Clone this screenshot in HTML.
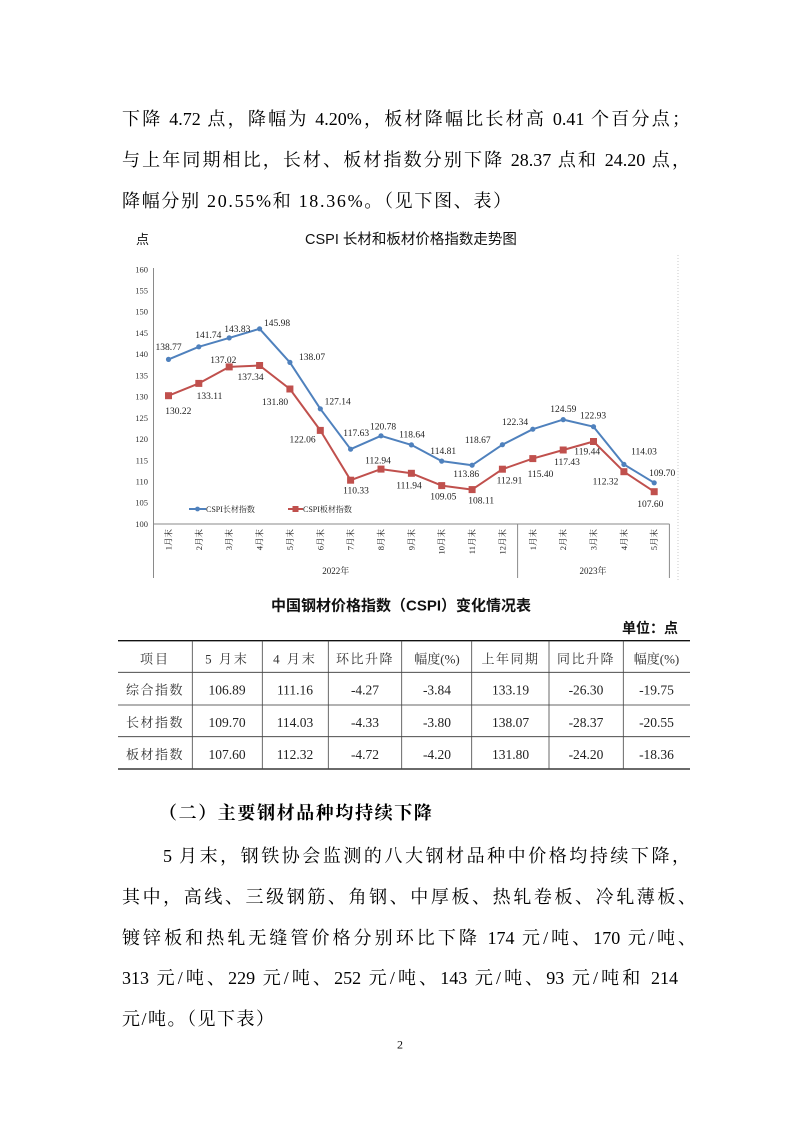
<!DOCTYPE html>
<html lang="zh">
<head>
<meta charset="utf-8">
<style>
html,body{margin:0;padding:0;}
body{width:800px;height:1131px;background:#fff;position:relative;overflow:hidden;}
.t{position:absolute;font-family:"Liberation Serif","Noto Serif CJK SC",serif;font-size:18px;line-height:24px;height:24px;color:#000;white-space:nowrap;}
.j{text-align:justify;text-align-last:justify;white-space:normal;overflow:visible;}
svg{position:absolute;left:0;top:0;}
</style>
</head>
<body>

<div class="t j" style="left:122px;top:107px;width:568px;">下降 4.72 点，降幅为 4.20%，板材降幅比长材高 0.41 个百分点；</div>
<div class="t j" style="left:122px;top:148px;width:568px;">与上年同期相比，长材、板材指数分别下降 28.37 点和 24.20 点，</div>
<div class="t" style="left:122px;top:189px;letter-spacing:1.7px;">降幅分别 20.55%和 18.36%。（见下图、表）</div>

<svg width="800" height="1131" viewBox="0 0 800 1131" xmlns="http://www.w3.org/2000/svg">
  <text x="136" y="244" font-family="'Noto Sans CJK SC',sans-serif" font-size="13" fill="#111">点</text>
  <text x="305" y="244" font-family="'Liberation Sans','Noto Sans CJK SC',sans-serif" font-size="14.5" fill="#111">CSPI 长材和板材价格指数走势图</text>

  <line x1="678" y1="255" x2="678" y2="580" stroke="#c8c8c8" stroke-width="1" stroke-dasharray="1,2"/>

  <g font-family="'Liberation Serif',serif" font-size="8.5" fill="#333" text-anchor="end">
    <text x="148" y="272.3">160</text>
    <text x="148" y="293.5">155</text>
    <text x="148" y="314.7">150</text>
    <text x="148" y="336">145</text>
    <text x="148" y="357.2">140</text>
    <text x="148" y="378.4">135</text>
    <text x="148" y="399.6">130</text>
    <text x="148" y="420.8">125</text>
    <text x="148" y="442.1">120</text>
    <text x="148" y="463.3">115</text>
    <text x="148" y="484.5">110</text>
    <text x="148" y="505.7">105</text>
    <text x="148" y="527">100</text>
  </g>

  <g stroke="#8a8a8a" stroke-width="1">
    <line x1="153.5" y1="268" x2="153.5" y2="578"/>
    <line x1="153" y1="524" x2="669.5" y2="524"/>
    <line x1="517.6" y1="524" x2="517.6" y2="578"/>
    <line x1="669.4" y1="524" x2="669.4" y2="578"/>
  </g>

  <g font-family="'Liberation Serif','Noto Serif CJK SC',serif" font-size="8.5" fill="#222" text-anchor="end">
    <text transform="translate(171.5,529) rotate(-90)">1月末</text>
    <text transform="translate(201.8,529) rotate(-90)">2月末</text>
    <text transform="translate(232.2,529) rotate(-90)">3月末</text>
    <text transform="translate(262.6,529) rotate(-90)">4月末</text>
    <text transform="translate(292.9,529) rotate(-90)">5月末</text>
    <text transform="translate(323.3,529) rotate(-90)">6月末</text>
    <text transform="translate(353.6,529) rotate(-90)">7月末</text>
    <text transform="translate(384,529) rotate(-90)">8月末</text>
    <text transform="translate(414.4,529) rotate(-90)">9月末</text>
    <text transform="translate(444.7,529) rotate(-90)">10月末</text>
    <text transform="translate(475.1,529) rotate(-90)">11月末</text>
    <text transform="translate(505.4,529) rotate(-90)">12月末</text>
    <text transform="translate(535.8,529) rotate(-90)">1月末</text>
    <text transform="translate(566.2,529) rotate(-90)">2月末</text>
    <text transform="translate(596.5,529) rotate(-90)">3月末</text>
    <text transform="translate(626.9,529) rotate(-90)">4月末</text>
    <text transform="translate(657.2,529) rotate(-90)">5月末</text>
  </g>
  <g font-family="'Liberation Serif','Noto Serif CJK SC',serif" font-size="9" fill="#222" text-anchor="middle">
    <text x="335.7" y="574">2022年</text>
    <text x="593" y="574">2023年</text>
  </g>

  <polyline fill="none" stroke="#4F81BD" stroke-width="2" stroke-linejoin="round"
    points="168.5,359.4 198.8,346.8 229.2,337.9 259.6,328.8 289.9,362.4 320.3,408.8 350.6,449.2 381,435.8 411.4,444.9 441.7,461.1 472.1,465.2 502.4,444.7 532.8,429.2 563.2,419.6 593.5,426.7 623.9,464.4 654.2,482.8"/>
  <polyline fill="none" stroke="#C0504D" stroke-width="2" stroke-linejoin="round"
    points="168.5,395.7 198.8,383.4 229.2,366.9 259.6,365.5 289.9,389 320.3,430.4 350.6,480.2 381,469.1 411.4,473.3 441.7,485.6 472.1,489.6 502.4,469.2 532.8,458.6 563.2,450 593.5,441.5 623.9,471.7 654.2,491.7"/>

  <g fill="#4F81BD">
    <circle cx="168.5" cy="359.4" r="2.6"/><circle cx="198.8" cy="346.8" r="2.6"/><circle cx="229.2" cy="337.9" r="2.6"/>
    <circle cx="259.6" cy="328.8" r="2.6"/><circle cx="289.9" cy="362.4" r="2.6"/><circle cx="320.3" cy="408.8" r="2.6"/>
    <circle cx="350.6" cy="449.2" r="2.6"/><circle cx="381" cy="435.8" r="2.6"/><circle cx="411.4" cy="444.9" r="2.6"/>
    <circle cx="441.7" cy="461.1" r="2.6"/><circle cx="472.1" cy="465.2" r="2.6"/><circle cx="502.4" cy="444.7" r="2.6"/>
    <circle cx="532.8" cy="429.2" r="2.6"/><circle cx="563.2" cy="419.6" r="2.6"/><circle cx="593.5" cy="426.7" r="2.6"/>
    <circle cx="623.9" cy="464.4" r="2.6"/><circle cx="654.2" cy="482.8" r="2.6"/>
  </g>
  <g fill="#C0504D">
    <rect x="165" y="392.2" width="7" height="7"/><rect x="195.3" y="379.9" width="7" height="7"/><rect x="225.7" y="363.4" width="7" height="7"/>
    <rect x="256.1" y="362" width="7" height="7"/><rect x="286.4" y="385.5" width="7" height="7"/><rect x="316.8" y="426.9" width="7" height="7"/>
    <rect x="347.1" y="476.7" width="7" height="7"/><rect x="377.5" y="465.6" width="7" height="7"/><rect x="407.9" y="469.8" width="7" height="7"/>
    <rect x="438.2" y="482.1" width="7" height="7"/><rect x="468.6" y="486.1" width="7" height="7"/><rect x="498.9" y="465.7" width="7" height="7"/>
    <rect x="529.3" y="455.1" width="7" height="7"/><rect x="559.7" y="446.5" width="7" height="7"/><rect x="590" y="438" width="7" height="7"/>
    <rect x="620.4" y="468.2" width="7" height="7"/><rect x="650.7" y="488.2" width="7" height="7"/>
  </g>

  <g font-family="'Liberation Serif',serif" font-size="9.5" fill="#222" text-anchor="middle">
    <text x="168.5" y="350.2">138.77</text>
    <text x="208.3" y="337.8">141.74</text>
    <text x="237.3" y="331.8">143.83</text>
    <text x="277" y="325.8">145.98</text>
    <text x="312" y="360.2">138.07</text>
    <text x="337.7" y="404.5">127.14</text>
    <text x="356.2" y="436.2">117.63</text>
    <text x="383" y="429.5">120.78</text>
    <text x="412" y="437.5">118.64</text>
    <text x="443.2" y="454.2">114.81</text>
    <text x="466.2" y="476.8">113.86</text>
    <text x="477.8" y="442.8">118.67</text>
    <text x="515" y="425.2">122.34</text>
    <text x="563.3" y="411.8">124.59</text>
    <text x="593" y="418.5">122.93</text>
    <text x="644" y="454.5">114.03</text>
    <text x="662.2" y="476.2">109.70</text>

    <text x="178.3" y="414.2">130.22</text>
    <text x="209.5" y="399.2">133.11</text>
    <text x="223.3" y="362.8">137.02</text>
    <text x="250.5" y="380.2">137.34</text>
    <text x="275" y="405.2">131.80</text>
    <text x="302.5" y="442.5">122.06</text>
    <text x="356" y="493.5">110.33</text>
    <text x="378" y="463.5">112.94</text>
    <text x="409" y="488.5">111.94</text>
    <text x="443.3" y="499.5">109.05</text>
    <text x="481.2" y="503.5">108.11</text>
    <text x="509.5" y="483.5">112.91</text>
    <text x="540.5" y="476.8">115.40</text>
    <text x="567" y="465.2">117.43</text>
    <text x="587.2" y="454.5">119.44</text>
    <text x="605.5" y="484.5">112.32</text>
    <text x="650.3" y="506.8">107.60</text>
  </g>

  <line x1="189" y1="509" x2="206" y2="509" stroke="#4F81BD" stroke-width="2"/>
  <circle cx="197.5" cy="509" r="2.4" fill="#4F81BD"/>
  <text x="206" y="512" font-family="'Liberation Serif','Noto Serif CJK SC',serif" font-size="8" fill="#222">CSPI长材指数</text>
  <line x1="288" y1="509" x2="303" y2="509" stroke="#C0504D" stroke-width="2"/>
  <rect x="292.5" y="506" width="6" height="6" fill="#C0504D"/>
  <text x="303" y="512" font-family="'Liberation Serif','Noto Serif CJK SC',serif" font-size="8" fill="#222">CSPI板材指数</text>

  <text x="401" y="610.5" text-anchor="middle" font-family="'Liberation Sans','Noto Sans CJK SC',sans-serif" font-size="15" font-weight="bold" fill="#111">中国钢材价格指数（CSPI）变化情况表</text>
  <text x="678" y="633" text-anchor="end" font-family="'Noto Sans CJK SC',sans-serif" font-size="14" font-weight="bold" fill="#111">单位：点</text>

  <line x1="118" y1="640.7" x2="690" y2="640.7" stroke="#111" stroke-width="1.3"/>
  <line x1="118" y1="672.3" x2="690" y2="672.3" stroke="#333" stroke-width="0.8"/>
  <line x1="118" y1="705" x2="690" y2="705" stroke="#333" stroke-width="0.8"/>
  <line x1="118" y1="736.7" x2="690" y2="736.7" stroke="#333" stroke-width="0.8"/>
  <line x1="118" y1="769" x2="690" y2="769" stroke="#111" stroke-width="1.3"/>
  <g stroke="#444" stroke-width="0.8">
    <line x1="192.3" y1="640.7" x2="192.3" y2="769"/>
    <line x1="262.3" y1="640.7" x2="262.3" y2="769"/>
    <line x1="328.3" y1="640.7" x2="328.3" y2="769"/>
    <line x1="401.7" y1="640.7" x2="401.7" y2="769"/>
    <line x1="471.7" y1="640.7" x2="471.7" y2="769"/>
    <line x1="549" y1="640.7" x2="549" y2="769"/>
    <line x1="623.3" y1="640.7" x2="623.3" y2="769"/>
  </g>

  <g font-family="'Liberation Serif','Noto Serif CJK SC',serif" font-size="13" fill="#333" text-anchor="middle">
    <text x="155" y="663.5" letter-spacing="2">项目</text>
    <text x="227" y="663.5" letter-spacing="2">5 月末</text>
    <text x="295" y="663.5" letter-spacing="2">4 月末</text>
    <text x="365" y="663.5" letter-spacing="1.5">环比升降</text>
    <text x="437" y="663.5">幅度(%)</text>
    <text x="510.5" y="663.5" letter-spacing="1.5">上年同期</text>
    <text x="586" y="663.5" letter-spacing="1.5">同比升降</text>
    <text x="656.5" y="663.5">幅度(%)</text>
  </g>
  <g font-family="'Liberation Serif','Noto Serif CJK SC',serif" font-size="13" fill="#333" text-anchor="middle" letter-spacing="1.5">
    <text x="155" y="694.5">综合指数</text>
    <text x="155" y="727.2">长材指数</text>
    <text x="155" y="758.8">板材指数</text>
  </g>
  <g font-family="'Liberation Serif',serif" font-size="13.5" fill="#222" text-anchor="middle">
    <text x="227" y="694.5">106.89</text><text x="295" y="694.5">111.16</text><text x="365" y="694.5">-4.27</text><text x="437" y="694.5">-3.84</text>
    <text x="510.5" y="694.5">133.19</text><text x="586" y="694.5">-26.30</text><text x="656.5" y="694.5">-19.75</text>

    <text x="227" y="727.2">109.70</text><text x="295" y="727.2">114.03</text><text x="365" y="727.2">-4.33</text><text x="437" y="727.2">-3.80</text>
    <text x="510.5" y="727.2">138.07</text><text x="586" y="727.2">-28.37</text><text x="656.5" y="727.2">-20.55</text>

    <text x="227" y="758.8">107.60</text><text x="295" y="758.8">112.32</text><text x="365" y="758.8">-4.72</text><text x="437" y="758.8">-4.20</text>
    <text x="510.5" y="758.8">131.80</text><text x="586" y="758.8">-24.20</text><text x="656.5" y="758.8">-18.36</text>
  </g>

  <text x="400" y="1048.5" text-anchor="middle" font-family="'Liberation Serif',serif" font-size="12" fill="#111">2</text>
</svg>

<div class="t" style="left:159px;top:801px;font-weight:bold;letter-spacing:1.6px;">（二）主要钢材品种均持续下降</div>
<div class="t j" style="left:163px;top:844px;width:527px;">5 月末，钢铁协会监测的八大钢材品种中价格均持续下降，</div>
<div class="t j" style="left:122px;top:885px;width:574px;">其中，高线、三级钢筋、角钢、中厚板、热轧卷板、冷轧薄板、</div>
<div class="t j" style="left:122px;top:926px;width:574px;">镀锌板和热轧无缝管价格分别环比下降 174 元/吨、170 元/吨、</div>
<div class="t j" style="left:122px;top:966px;width:556px;">313 元/吨、229 元/吨、252 元/吨、143 元/吨、93 元/吨和 214</div>
<div class="t" style="left:122px;top:1007px;letter-spacing:1.5px;">元/吨。（见下表）</div>

</body>
</html>
